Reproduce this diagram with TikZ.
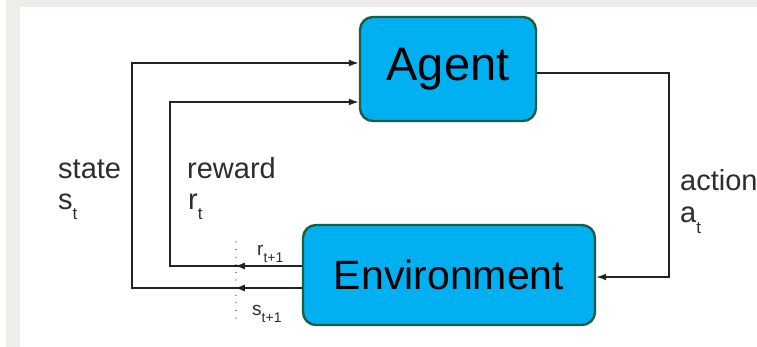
\documentclass[tikz,border=0pt]{standalone}
\usepackage{fontspec}
\setmainfont{Liberation Sans}
\usetikzlibrary{arrows.meta,decorations.markings}
\definecolor{paneGray}{RGB}{238,237,234}
\definecolor{boxFill}{RGB}{0,176,240}
\definecolor{boxEdge}{RGB}{28,94,68}
\definecolor{lineInk}{RGB}{34,34,34}
\definecolor{labelInk}{RGB}{45,45,45}
\newcommand{\fs}[1]{\fontsize{#1}{#1}\selectfont}
% label with a lowered subscript
\newcommand{\symsub}[5]{{\fs{#1}#2}\raisebox{-#4}{\fs{#3}#5}}
\begin{document}
\begin{tikzpicture}[x=1pt,y=-1pt,
  block/.style={draw=boxEdge, line width=2.4pt, fill=boxFill, rounded corners=13pt,
    inner sep=0pt, text=black},
  conn/.style={draw=lineInk, line width=1.6pt},
  tipstyle/.style={-{Latex[length=10pt,width=7pt]}},
  midtip/.style={postaction={decorate}, decoration={markings,
    mark=at position #1 with {\arrow{Latex[length=10pt,width=7pt]}}}},
  lbl/.style={anchor=base west, inner sep=0pt, text=labelInk, font=\fs{29}}]
\useasboundingbox (0,0) rectangle (757,347);
% backdrop: grey frame round a white panel
\fill[white] (0,0) rectangle (757,347);
\fill[paneGray] (6,0) rectangle (757,347);
\fill[white] (20,7) rectangle (757,347);
\clip (0,0) rectangle (757,347);

% the two blocks
\node[block, minimum width=176pt, minimum height=104pt, font=\fs{47}] (agent) at (448,69) {Agent};
\node[block, minimum width=292pt, minimum height=100pt, font=\fs{41}] (env) at (449,275) {Environment};

% ports and routing columns
\coordinate (aS) at ([yshift=6pt]agent.west);
\coordinate (aR) at ([yshift=-33pt]agent.west);
\coordinate (aA) at ([yshift=-4pt]agent.east);
\coordinate (eS) at ([yshift=-13pt]env.west);
\coordinate (eR) at ([yshift=9pt]env.west);
\coordinate (eA) at ([yshift=-2pt]env.east);
\coordinate (sCol) at (132,0);
\coordinate (rCol) at (170,0);
\coordinate (aCol) at (669,0);
\coordinate (dTop) at (236,242);
\coordinate (dBot) at (236,318);

% feedback loops
\draw[conn, tipstyle, midtip=67pt] (eS) -| (sCol |- aS) -- (aS);
\draw[conn, tipstyle, midtip=67pt] (eR) -| (rCol |- aR) -- (aR);
\draw[conn, tipstyle] (aA) -| (aCol |- eA) -- (eA);

% time-step boundary
\draw[lineInk, line width=1.3pt, line cap=round, dash pattern=on 0pt off 7.6pt] (dTop) -- (dBot);

% labels
\node[lbl] (stateLbl) at (58,179) {state};
\node[lbl] (stLbl) at (58,210) {\symsub{29}{s}{17}{10pt}{t}};
\node[lbl] (rewardLbl) at (187,179) {reward};
\node[lbl] (rtLbl) at (188,210) {\symsub{29}{r}{17}{10pt}{t}};
\node[lbl] (actionLbl) at (680,191) {action};
\node[lbl] (atLbl) at (680,223) {\symsub{29}{a}{17}{10pt}{t}};
\node[lbl] (rnLbl) at (257,255) {\symsub{19}{r}{14}{7pt}{t+1}};
\node[lbl] (snLbl) at (252,315) {\symsub{19}{s}{14}{7pt}{t+1}};
\end{tikzpicture}
\end{document}
